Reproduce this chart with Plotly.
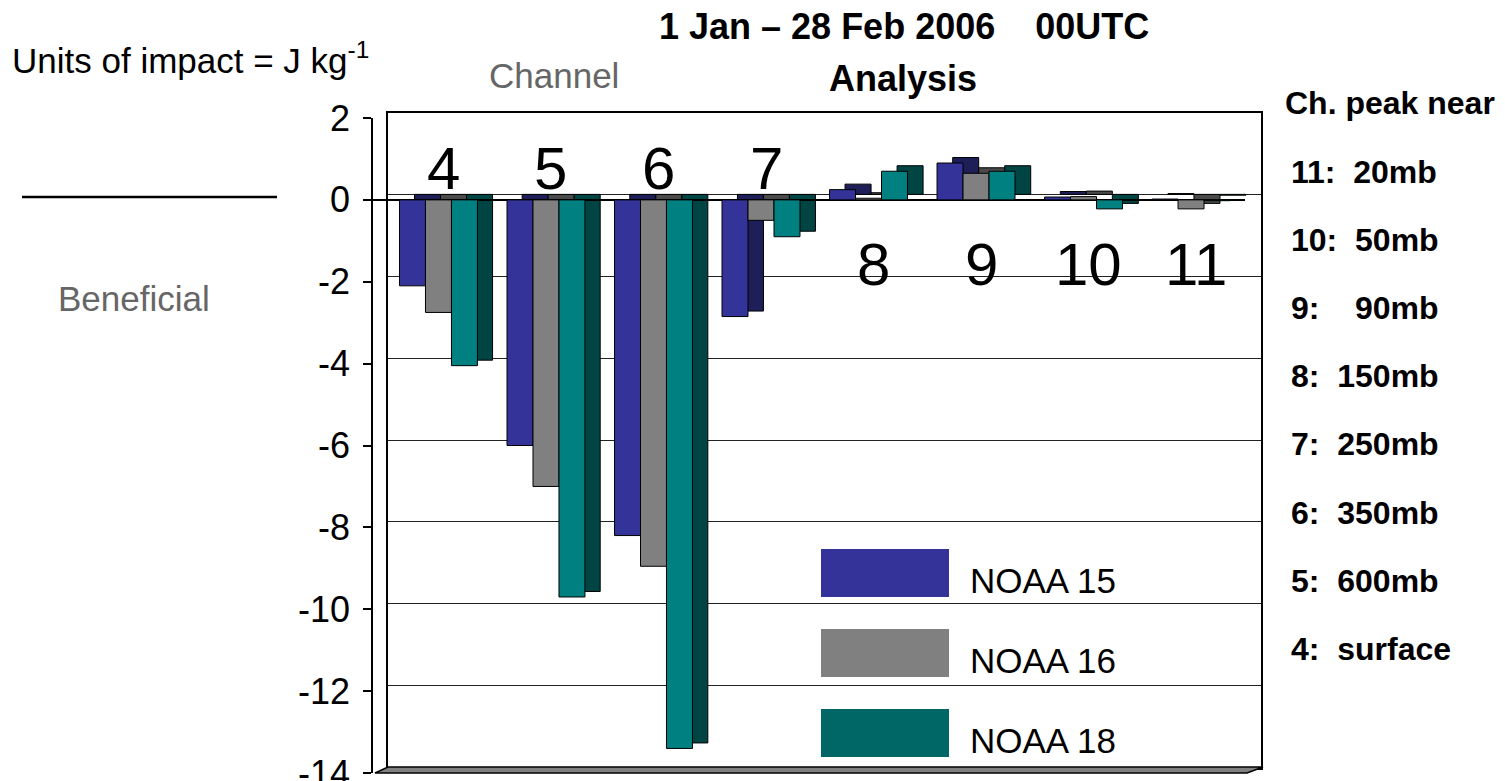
import plotly.graph_objects as go

# %% Data
channels = [4, 5, 6, 7, 8, 9, 10, 11]
noaa15 = [-2.1, -6.0, -8.2, -2.85, 0.25, 0.9, 0.07, 0.02]
noaa16 = [-2.75, -7.0, -8.95, -0.5, 0.04, 0.65, 0.08, -0.22]
noaa18 = [-4.05, -9.7, -13.4, -0.9, 0.7, 0.7, -0.22, -0.02]

series_names = ["NOAA 15", "NOAA 16", "NOAA 18"]
front_colors = ["#333399", "#808080", "#008080"]
side_colors = ["#1E1E58", "#4A4A4A", "#004444"]
legend_colors = ["#333399", "#808080", "#006666"]

y_ticks = [2, 0, -2, -4, -6, -8, -10, -12, -14]

peak_title = "Ch. peak near"
peak_lines = [
    "11:\u00a0 20mb",
    "10:\u00a0 50mb",
    "9:\u00a0\u00a0\u00a0 90mb",
    "8:\u00a0 150mb",
    "7:\u00a0 250mb",
    "6:\u00a0 350mb",
    "5:\u00a0 600mb",
    "4:\u00a0 surface",
]

W, H = 1505, 781
FONT = "Liberation Sans, Arial, sans-serif"


def fx(p):
    return p / W


def fy(p):
    return 1 - p / H


# %% Figure
fig = go.Figure()

# depth faces (back subplot, drawn first)
for vals, col in zip([noaa15, noaa16, noaa18], side_colors):
    fig.add_trace(
        go.Bar(
            x=channels, y=vals, xaxis="x", yaxis="y",
            marker=dict(color=col, line=dict(color="black", width=1)),
            showlegend=False, hoverinfo="skip",
        )
    )

# front faces
for name, vals, col in zip(series_names, [noaa15, noaa16, noaa18], front_colors):
    fig.add_trace(
        go.Bar(
            x=channels, y=vals, name=name, xaxis="x2", yaxis="y2",
            marker=dict(color=col, line=dict(color="black", width=1)),
        )
    )

xr = [3.391, 11.502]
yr = [-14, 2]

fig.update_layout(
    width=W, height=H,
    margin=dict(l=0, r=0, t=0, b=0, autoexpand=False),
    paper_bgcolor="white",
    plot_bgcolor="rgba(0,0,0,0)",
    showlegend=False,
    barmode="group", bargap=0.275, bargroupgap=0,
    font=dict(family=FONT, color="black"),
    xaxis=dict(
        domain=[fx(388), fx(1261)], range=xr, anchor="y", automargin=False,
        showline=True, mirror=True, linecolor="black", linewidth=1.5,
        showgrid=False, zeroline=False, showticklabels=False, ticks="",
    ),
    yaxis=dict(
        domain=[fy(767.5), fy(112.5)], range=yr, anchor="x", dtick=2, automargin=False,
        showline=True, mirror=True, linecolor="black", linewidth=1.5,
        showgrid=True, gridcolor="#222222", gridwidth=1,
        zeroline=False, showticklabels=False, ticks="",
    ),
    xaxis2=dict(
        domain=[fx(373), fx(1245)], range=xr, anchor="y2", automargin=False,
        showline=False, showgrid=False, zeroline=False,
        showticklabels=False, ticks="",
    ),
    yaxis2=dict(
        domain=[fy(773), fy(118)], range=yr, anchor="x2", automargin=False,
        tickvals=y_ticks, ticktext=[str(v) for v in y_ticks],
        ticks="outside", ticklen=8, tickcolor="black", tickwidth=1.5,
        ticklabelstandoff=6, ticklabeloverflow="allow",
        tickfont=dict(size=36, family=FONT, color="black"),
        showline=True, linecolor="black", linewidth=1.5,
        showgrid=False,
        zeroline=True, zerolinecolor="black", zerolinewidth=1.5,
    ),
)

shapes = []
# floor
shapes.append(dict(
    type="path", xref="paper", yref="paper",
    path=f"M {fx(375)},{fy(773)} L {fx(1247)},{fy(773)} L {fx(1263)},{fy(767)} L {fx(388)},{fy(767)} Z",
    fillcolor="#808080", line=dict(color="black", width=1.5), layer="above",
))
# separator line on the left
shapes.append(dict(
    type="line", xref="paper", yref="paper",
    x0=fx(22), x1=fx(277), y0=fy(197), y1=fy(197),
    line=dict(color="black", width=2.5),
))

annotations = []

# manual legend
for i, (name, col) in enumerate(zip(series_names, legend_colors)):
    top = 549 + 80 * i
    shapes.append(dict(
        type="rect", xref="paper", yref="paper",
        x0=fx(821), x1=fx(949), y0=fy(top + 48), y1=fy(top),
        fillcolor=col, line=dict(width=0), layer="above",
    ))
    annotations.append(dict(
        text=name, xref="paper", yref="paper", x=fx(968), y=fy(top + 31),
        xanchor="left", yanchor="middle", showarrow=False,
        font=dict(size=35, color="black"),
    ))

# channel labels on the chart
for ch in channels:
    annotations.append(dict(
        text=str(ch), xref="x2", yref="paper", x=ch, xshift=5,
        y=fy(168) if ch <= 7 else fy(264),
        xanchor="center", yanchor="middle", showarrow=False,
        font=dict(size=60, color="black"),
    ))

# titles and notes
annotations += [
    dict(text="1 Jan \u2013 28 Feb 2006\u00a0\u00a0\u00a0 00UTC", xref="paper", yref="paper",
         x=fx(904), y=fy(27), xanchor="center", yanchor="middle", showarrow=False,
         font=dict(size=36, color="black", weight="bold")),
    dict(text="Analysis", xref="paper", yref="paper",
         x=fx(903), y=fy(78), xanchor="center", yanchor="middle", showarrow=False,
         font=dict(size=36, color="black", weight="bold")),
    dict(text="Units of impact = J kg<sup>-1</sup>", xref="paper", yref="paper",
         x=fx(10), y=fy(58), xanchor="left", yanchor="middle", showarrow=False,
         font=dict(size=35, color="black")),
    dict(text="Channel", xref="paper", yref="paper",
         x=fx(487), y=fy(75), xanchor="left", yanchor="middle", showarrow=False,
         font=dict(size=35, color="#666666")),
    dict(text="Beneficial", xref="paper", yref="paper",
         x=fx(56), y=fy(298), xanchor="left", yanchor="middle", showarrow=False,
         font=dict(size=35, color="#666666")),
    dict(text=peak_title, xref="paper", yref="paper",
         x=fx(1283), y=fy(103), xanchor="left", yanchor="middle", showarrow=False,
         font=dict(size=32, color="black", weight="bold")),
]
for i, line in enumerate(peak_lines):
    annotations.append(dict(
        text=line, xref="paper", yref="paper",
        x=fx(1289), y=fy(172 + 68.1 * i), xanchor="left", yanchor="middle",
        showarrow=False, font=dict(size=32, color="black", weight="bold"),
    ))

fig.update_layout(shapes=shapes, annotations=annotations)

# the page has a default body margin; drop it so the figure fills the window
fig.write_html(
    "out.html",
    config={"displayModeBar": False},
    post_script="document.body.style.margin='0';",
)
